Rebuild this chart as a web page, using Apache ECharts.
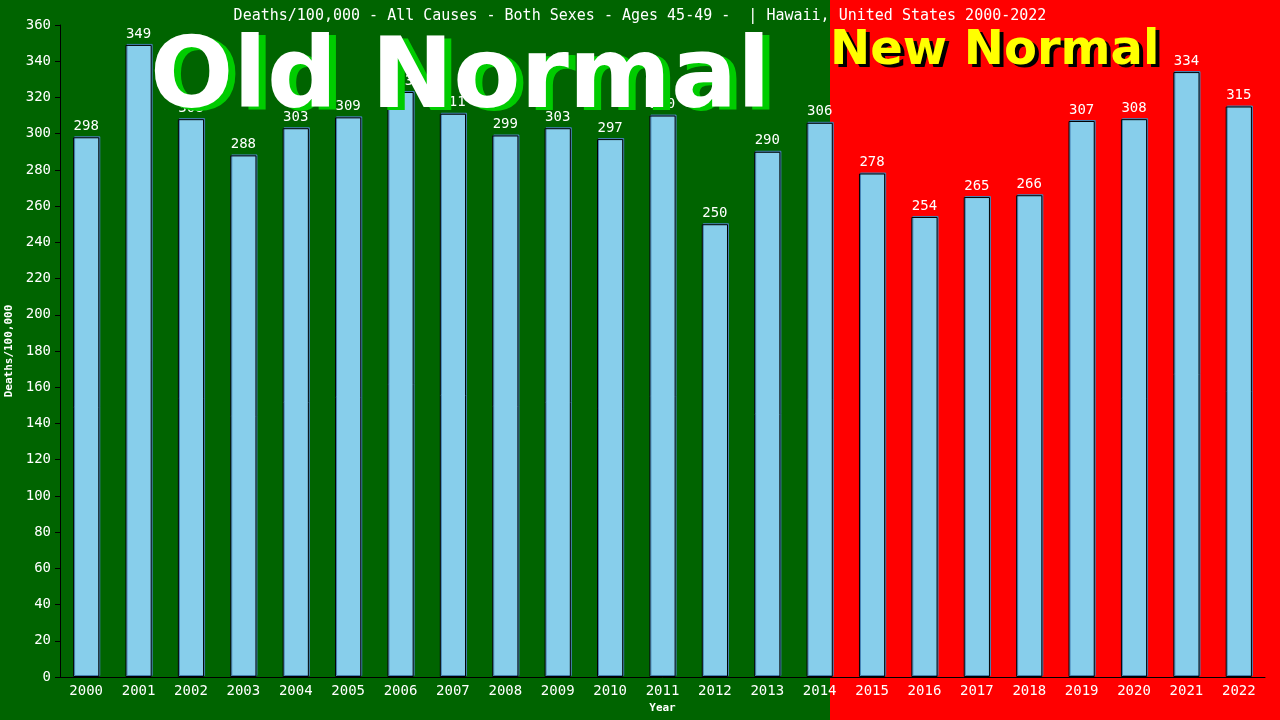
<!DOCTYPE html>
<html><head><meta charset="utf-8">
<script src="https://cdn.jsdelivr.net/npm/echarts@6/dist/echarts.min.js"></script>
<style>html,body{margin:0;padding:0;background:#006400}#c{width:1280px;height:720px}</style>
</head><body><div id="c"></div>
<script>
const years = ['2000','2001','2002','2003','2004','2005','2006','2007','2008','2009','2010','2011','2012','2013','2014','2015','2016','2017','2018','2019','2020','2021','2022'];
const deaths = [298,349,308,288,303,309,323,311,299,303,297,310,250,290,306,278,254,265,266,307,308,334,315];
const yTicks = {min:0, max:360, interval:20};
const titleText = 'Deaths/100,000 - All Causes - Both Sexes - Ages 45-49 -  | Hawaii, United States 2000-2022';
const mono = 'DejaVu Sans Mono';
const chart = echarts.init(document.getElementById('c'));
chart.setOption({
  animation:false,
  backgroundColor:'#006400',
  title:{text:titleText,left:'center',top:4,textStyle:{color:'#fff',fontFamily:mono,fontSize:15,fontWeight:'normal'}},
  graphic:[
    {type:'rect',left:830,top:0,shape:{width:450,height:720},style:{fill:'#ff0000'},z:-10,silent:true},
    {type:'text',left:157,top:36,z:100,style:{text:'Old Normal',font:'bold 98px "DejaVu Sans"',fill:'#00cc00'}},
    {type:'text',left:150,top:33,z:101,style:{text:'Old Normal',font:'bold 98px "DejaVu Sans"',fill:'#ffffff'}},
    {type:'text',left:834,top:31,z:100,style:{text:'New Normal',font:'bold 48px "DejaVu Sans"',fill:'#000000'}},
    {type:'text',left:830,top:28,z:101,style:{text:'New Normal',font:'bold 48px "DejaVu Sans"',fill:'#ffff00'}}
  ],
  grid:{left:60,right:15,top:25,bottom:43,outerBoundsMode:'none',containLabel:false},
  xAxis:{type:'category',data:years,name:'Year',nameLocation:'middle',nameGap:26,
    nameTextStyle:{color:'#fff',fontFamily:mono,fontSize:11,fontWeight:'bold'},
    axisLine:{lineStyle:{color:'#000'}},axisTick:{show:false},
    axisLabel:{color:'#fff',fontFamily:mono,fontSize:14,margin:7}},
  yAxis:{type:'value',min:yTicks.min,max:yTicks.max,interval:yTicks.interval,name:'Deaths/100,000',nameLocation:'middle',nameGap:42,
    nameTextStyle:{color:'#fff',fontFamily:mono,fontSize:11,fontWeight:'bold'},
    axisLine:{show:true,lineStyle:{color:'#000'}},axisTick:{show:true,length:5,lineStyle:{color:'#000'}},
    splitLine:{show:false},
    axisLabel:{color:'#fff',fontFamily:mono,fontSize:14,margin:9}},
  series:[{type:'bar',data:deaths,barWidth:'50%',
    itemStyle:{color:'#87ceeb',borderColor:'#000',borderWidth:1,shadowColor:'#4682b4',shadowOffsetX:1,shadowOffsetY:-1,shadowBlur:0},
    label:{show:true,position:'top',color:'#fff',fontFamily:mono,fontSize:14,distance:4}}]
});
</script></body></html>
